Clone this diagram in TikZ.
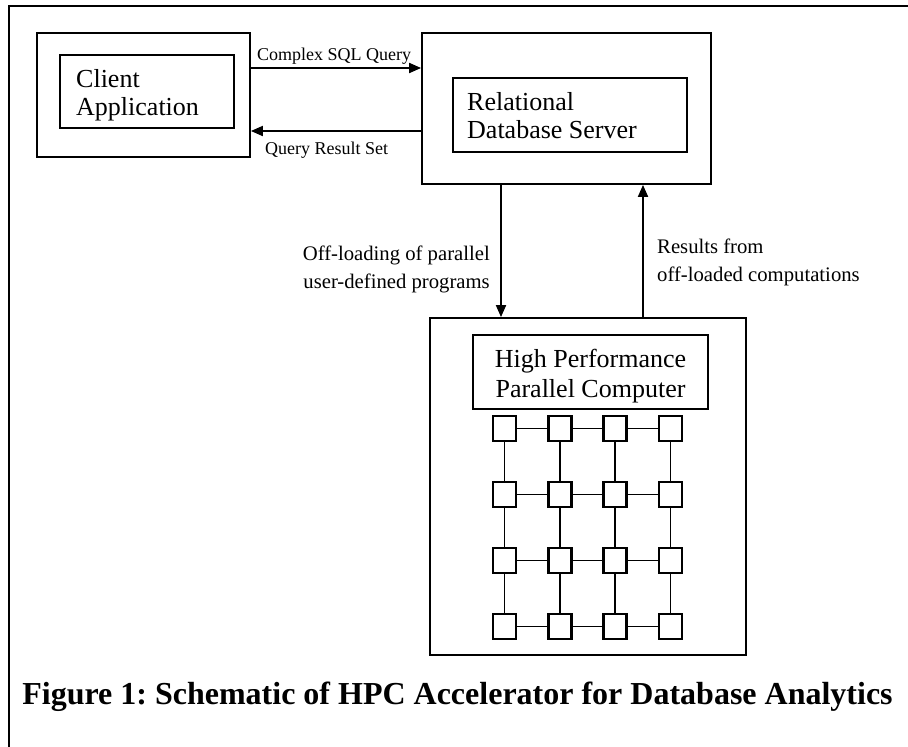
\documentclass[tikz,border=0pt]{standalone}
\usepackage{fontspec}
\setmainfont{Liberation Serif}
\usetikzlibrary{arrows.meta}
\frenchspacing
\begin{document}
\begin{tikzpicture}[x=1pt,y=-1pt,
  box/.style={draw,line width=1.8pt,minimum width=#1,inner sep=0pt},
  lab/.style={inner sep=0pt,font=\fontsize{26}{28}\selectfont,align=left},
  edgelab/.style={inner sep=0pt,font=\fontsize{18}{20}\selectfont},
  arrlab/.style={inner sep=0pt,font=\fontsize{20.7}{28}\selectfont},
  arr/.style={line width=1.8pt,-{Triangle[length=12pt,width=10pt]}},
  cell/.style={draw,line width=2.6pt,fill=white,minimum width=23pt,minimum height=25pt,inner sep=0pt},
  link/.style={line width=1.5pt}]
\useasboundingbox (0,0) rectangle (908,747);
% outer frame (left and top only)
\draw[line width=2.2pt] (9,747) -- (9,6) -- (908,6);
% client
\node[box=213pt,minimum height=124pt] (clo) at (143.5,95) {};
\node[box=174pt,minimum height=73pt] (cli) at (147,91.5) {};
\node[lab,anchor=base west] (clt) at (76,115) {Client\\Application};
% database
\node[box=289pt,minimum height=151pt] (dbo) at (566.5,108.5) {};
\node[box=234pt,minimum height=74pt] (dbi) at (570,115) {};
\node[lab,anchor=base west] (dbt) at (467,138) {Relational\\Database Server};
% HPC
\node[box=316pt,minimum height=337pt] (hpo) at (588,486.5) {};
\node[box=235pt,minimum height=74pt] (hpi) at (590.5,372) {};
\node[lab,align=center,anchor=base,font=\fontsize{26}{30}\selectfont] (hpt) at (590.5,397) {High Performance\\Parallel Computer};
% grid
\foreach \r/\y in {1/428.5,2/494.5,3/560.5,4/626.5}
  \foreach \c/\x in {1/504.5,2/559.8,3/615.1,4/670.4}
    \node[cell] (g\r\c) at (\x,\y) {};
\foreach \r in {1,2,3,4}{
  \draw[link] (g\r1) -- (g\r2);
  \draw[link] (g\r2) -- (g\r3);
  \draw[link] (g\r3) -- (g\r4);}
\foreach \c in {1,2,3,4}{
  \draw[link] (g1\c) -- (g2\c);
  \draw[link] (g2\c) -- (g3\c);
  \draw[link] (g3\c) -- (g4\c);}
% arrows
\coordinate (ya) at (0,68);
\coordinate (yb) at (0,131);
\coordinate (xa) at (501,0);
\coordinate (xb) at (643,0);
\draw[arr] (clo.east |- ya) -- (dbo.west |- ya);
\draw[arr] (dbo.west |- yb) -- (clo.east |- yb);
\draw[arr] (dbo.south -| xa) -- (hpo.north -| xa);
\draw[arr] (hpo.north -| xb) -- (dbo.south -| xb);
\node[edgelab,anchor=base west] (l1) at (257,60) {Complex SQL Query};
\node[edgelab,anchor=base west] (l2) at (265,154) {Query Result Set};
\node[arrlab,align=right,anchor=base east] (l3) at (490,288) {Off-loading of parallel\\user-defined programs};
\node[arrlab,align=left,anchor=base west] (l4) at (657,281) {Results from\\off-loaded computations};
% caption
\node[inner sep=0pt,anchor=base,font=\fontsize{32}{36}\selectfont\bfseries] (cap) at (457.5,704) {Figure 1: Schematic of HPC Accelerator for Database Analytics};
\end{tikzpicture}
\end{document}
